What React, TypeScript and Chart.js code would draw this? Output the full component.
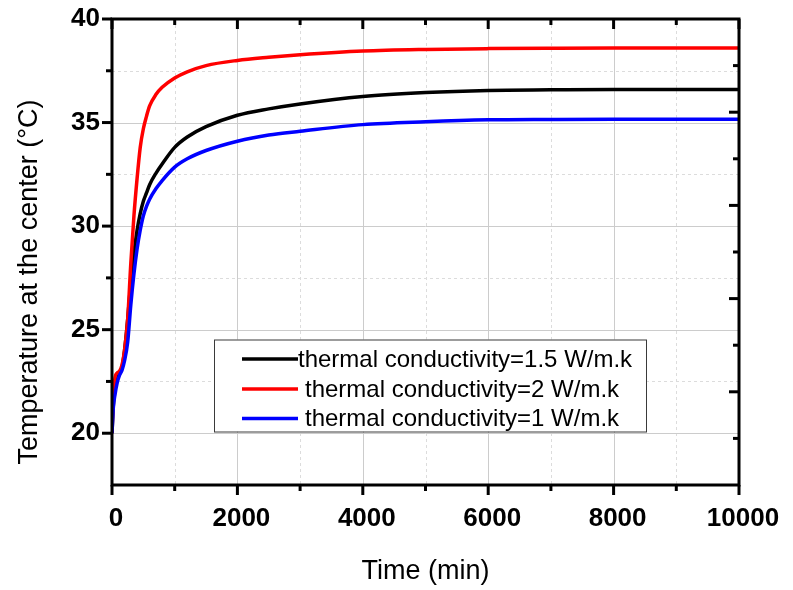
import React, { useEffect, useRef } from 'react';
import { Chart, registerables } from 'chart.js';

Chart.register(...registerables);

// ---- data ----
const timeMin = [0, 20, 50, 80, 120, 160, 200, 250, 300, 350, 400, 450, 500, 550, 600, 700, 800, 1000, 1200, 1500, 2000, 2500, 3000, 4000, 5000, 6000, 7000, 8000, 9000, 10000];
const tempK15 = [20, 21.3, 22.2, 22.6, 22.9, 23.2, 24.0, 25.5, 27.3, 28.7, 29.8, 30.6, 31.2, 31.6, 32.0, 32.55, 33.0, 33.8, 34.3, 34.8, 35.35, 35.66, 35.9, 36.26, 36.45, 36.55, 36.58, 36.6, 36.6, 36.6];
const tempK2 = [20, 21.8, 22.7, 22.9, 23.0, 23.3, 24.0, 25.5, 28.2, 30.5, 32.3, 33.8, 34.7, 35.3, 35.8, 36.35, 36.7, 37.15, 37.45, 37.75, 38.0, 38.15, 38.27, 38.45, 38.53, 38.57, 38.59, 38.6, 38.6, 38.6];
const tempK1 = [20, 21.2, 21.9, 22.4, 22.8, 23.05, 23.5, 24.4, 26.2, 27.7, 28.9, 29.8, 30.5, 30.95, 31.3, 31.8, 32.2, 32.85, 33.25, 33.65, 34.1, 34.4, 34.58, 34.9, 35.04, 35.13, 35.15, 35.16, 35.16, 35.16];

const seriesLabels = [
  'thermal conductivity=1.5 W/m.k',
  'thermal conductivity=2 W/m.k',
  'thermal conductivity=1 W/m.k',
];
const seriesColors = ['#000000', '#ff0000', '#0000ff'];

const xMajorTicks = [0, 2000, 4000, 6000, 8000, 10000];
const xMinorTicks = [1000, 3000, 5000, 7000, 9000];
const yMajorTicks = [20, 25, 30, 35, 40];
const yMinorTicks = [22.5, 27.5, 32.5, 37.5];
const rightMajorTicks = [1, 2, 3, 4];
const rightMinorTicks = [0.5, 1.5, 2.5, 3.5, 4.5];

const xTitle = 'Time (min)';
const yTitle = 'Temperature at the center (\u00B0C)';

const FONT = "'Liberation Sans', Arial, Helvetica, sans-serif";

const framePlugin = {
  id: 'frame',
  beforeDatasetsDraw(chart: any) {
    const { ctx, chartArea: a, scales } = chart;
    const xs = scales.x;
    const ys = scales.y;
    ctx.save();
    ctx.beginPath();
    ctx.rect(a.left, a.top, a.right - a.left, a.bottom - a.top);
    ctx.clip();
    const vline = (px: number) => {
      ctx.beginPath();
      ctx.moveTo(px, a.top);
      ctx.lineTo(px, a.bottom);
      ctx.stroke();
    };
    const hline = (py: number) => {
      ctx.beginPath();
      ctx.moveTo(a.left, py);
      ctx.lineTo(a.right, py);
      ctx.stroke();
    };
    ctx.lineWidth = 1;
    ctx.strokeStyle = '#dcdcdc';
    ctx.setLineDash([3, 3]);
    xMinorTicks.forEach((v) => vline(Math.round(xs.getPixelForValue(v)) + 0.5));
    yMinorTicks.forEach((v) => hline(Math.round(ys.getPixelForValue(v)) + 0.5));
    ctx.setLineDash([]);
    ctx.strokeStyle = '#cccccc';
    xMajorTicks.forEach((v) => vline(Math.round(xs.getPixelForValue(v)) + 0.5));
    yMajorTicks.forEach((v) => hline(Math.round(ys.getPixelForValue(v)) + 0.5));
    ctx.restore();
  },
  afterDraw(chart: any) {
    const { ctx, chartArea: a, scales } = chart;
    const xs = scales.x;
    const ys = scales.y;
    const yr = scales.y2;
    ctx.save();
    ctx.strokeStyle = '#000';
    ctx.lineWidth = 3;
    ctx.setLineDash([]);
    ctx.lineCap = 'butt';
    ctx.strokeRect(a.left, a.top, a.right - a.left, a.bottom - a.top);
    const seg = (x1: number, y1: number, x2: number, y2: number) => {
      ctx.beginPath();
      ctx.moveTo(x1, y1);
      ctx.lineTo(x2, y2);
      ctx.stroke();
    };
    const MAJ = 10;
    const MIN = 6;
    xMajorTicks.forEach((v) => {
      const px = xs.getPixelForValue(v);
      seg(px, a.bottom, px, a.bottom + MAJ);
      seg(px, a.top, px, a.top + MAJ);
    });
    xMinorTicks.forEach((v) => {
      const px = xs.getPixelForValue(v);
      seg(px, a.bottom, px, a.bottom + MIN);
      seg(px, a.top, px, a.top + MIN);
    });
    yMajorTicks.forEach((v) => {
      const py = ys.getPixelForValue(v);
      seg(a.left - MAJ, py, a.left, py);
    });
    yMinorTicks.forEach((v) => {
      const py = ys.getPixelForValue(v);
      seg(a.left - MIN, py, a.left, py);
    });
    rightMajorTicks.forEach((v) => {
      const py = yr.getPixelForValue(v);
      seg(a.right - MAJ, py, a.right, py);
    });
    rightMinorTicks.forEach((v) => {
      const py = yr.getPixelForValue(v);
      seg(a.right - MIN, py, a.right, py);
    });

    // legend
    const lx = 214;
    const ly = 339.5;
    const lw = 432;
    const lh = 92;
    ctx.fillStyle = '#ffffff';
    ctx.fillRect(lx, ly, lw, lh);
    ctx.lineWidth = 1;
    ctx.strokeStyle = '#3a3a3a';
    ctx.strokeRect(lx + 0.5, ly + 0.5, lw, lh);
    const rowY = [359, 389, 418.5];
    const textX = [298, 305, 305];
    ctx.font = `24px ${FONT}`;
    ctx.textBaseline = 'middle';
    ctx.textAlign = 'left';
    chart.data.datasets.forEach((ds: any, i: number) => {
      ctx.strokeStyle = ds.borderColor;
      ctx.lineWidth = 3.5;
      seg(lx + 28, rowY[i], lx + 84, rowY[i]);
      ctx.fillStyle = '#000';
      ctx.fillText(ds.label, textX[i], rowY[i] + 1);
    });

    // y title
    ctx.save();
    ctx.translate(30, 282);
    ctx.rotate(-Math.PI / 2);
    ctx.font = `27px ${FONT}`;
    ctx.fillStyle = '#000';
    ctx.textAlign = 'center';
    ctx.textBaseline = 'middle';
    ctx.fillText(yTitle, 0, 0);
    ctx.restore();

    ctx.restore();
  },
};

export default function App() {
  const ref = useRef<HTMLCanvasElement | null>(null);

  useEffect(() => {
    if (!ref.current) return;
    Chart.defaults.font.family = FONT;
    const mk = (vals: number[]) => timeMin.map((t, i) => ({ x: t, y: vals[i] }));
    const chart = new Chart(ref.current, {
      type: 'line',
      data: {
        datasets: [
          { label: seriesLabels[0], data: mk(tempK15), borderColor: seriesColors[0], order: 3 },
          { label: seriesLabels[1], data: mk(tempK2), borderColor: seriesColors[1], order: 2 },
          { label: seriesLabels[2], data: mk(tempK1), borderColor: seriesColors[2], order: 1 },
        ].map((d) => ({
          ...d,
          borderWidth: 3.5,
          pointRadius: 0,
          fill: false,
          cubicInterpolationMode: 'monotone' as const,
          backgroundColor: d.borderColor,
        })),
      },
      options: {
        responsive: false,
        animation: false,
        events: [],
        layout: { padding: { top: 19, right: 54, left: 0, bottom: 0 } },
        plugins: {
          legend: { display: false },
          tooltip: { enabled: false },
        },
        scales: {
          x: {
            type: 'linear',
            min: 0,
            max: 10000,
            grid: { display: false, drawTicks: false },
            border: { display: false },
            afterBuildTicks: (s: any) => {
              s.ticks = xMajorTicks.map((v) => ({ value: v }));
            },
            afterFit: (s: any) => {
              s.height = 105;
              s.paddingLeft = 0;
              s.paddingRight = 0;
            },
            ticks: {
              autoSkip: false,
              maxRotation: 0,
              padding: 18,
              labelOffset: 4,
              color: '#000',
              font: { size: 26, weight: 'bold', family: FONT },
              callback: (v: any) => String(v),
            },
            title: {
              display: true,
              text: xTitle,
              color: '#000',
              font: { size: 27, family: FONT },
              padding: { top: 0, bottom: 2 },
            },
          },
          y: {
            type: 'linear',
            min: 17.5,
            max: 40,
            grid: { display: false, drawTicks: false },
            border: { display: false },
            afterBuildTicks: (s: any) => {
              s.ticks = yMajorTicks.map((v) => ({ value: v }));
            },
            afterFit: (s: any) => {
              s.width = 112;
              s.paddingTop = 0;
              s.paddingBottom = 0;
            },
            ticks: {
              padding: 12,
              color: '#000',
              font: { size: 26, weight: 'bold', family: FONT },
              callback: (v: any) => String(v),
            },
          },
          y2: {
            type: 'linear',
            position: 'right',
            min: 0,
            max: 5,
            display: false,
          },
        },
      },
      plugins: [framePlugin],
    } as any);
    return () => chart.destroy();
  }, []);

  return (
    <div style={{ position: 'fixed', left: 0, top: 0, width: 793, height: 590, background: '#fff' }}>
      <canvas ref={ref} width={793} height={590} style={{ display: 'block' }} />
    </div>
  );
}
